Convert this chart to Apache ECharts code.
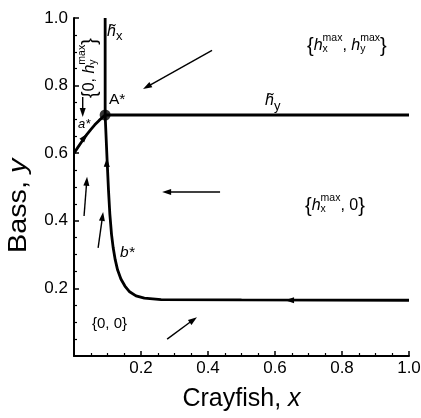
<!DOCTYPE html>
<html><head><meta charset="utf-8">
<script src="https://cdn.jsdelivr.net/npm/echarts@6/dist/echarts.min.js"></script>
<style>html,body{margin:0;padding:0;background:#fff}#c{width:421px;height:418px}</style>
</head><body><div id="c"></div>
<script>
// ---- data ----
const hxTilde = [[0.093, 1.0], [0.093, 0.713]];
const hyTilde = [[0.093, 0.713], [1.0, 0.713]];
const aStar = [[0, 0.600], [0.012, 0.618], [0.025, 0.637], [0.038, 0.655], [0.05, 0.670], [0.062, 0.684], [0.075, 0.697], [0.093, 0.713]];
const bStar = [[0.093, 0.713], [0.0985, 0.586], [0.103, 0.49], [0.107, 0.42], [0.112, 0.36], [0.117, 0.32], [0.123, 0.285], [0.130, 0.255], [0.140, 0.228], [0.152, 0.207], [0.166, 0.19], [0.185, 0.178], [0.21, 0.171], [0.26, 0.167], [0.5, 0.166], [1.0, 0.165]];
const equilibriumA = [[0.093, 0.713]];
// free flow arrows [x1, y1, x2(head), y2(head)]
const flowArrows = [
  [0.412, 0.904, 0.206, 0.790],
  [0.436, 0.485, 0.263, 0.485],
  [0.030, 0.414, 0.039, 0.530],
  [0.072, 0.320, 0.087, 0.426],
  [0.026, 0.766, 0.026, 0.707],
  [0.278, 0.050, 0.367, 0.115]
];
// arrowheads sitting on the curves [x1, y1, x2(tip), y2(tip)]
const curveArrows = [
  [0.032, 0.648, 0.040, 0.658],
  [0.0975, 0.55, 0.0985, 0.586],
  [0.67, 0.165, 0.630, 0.165]
];
const xTitle = ['Crayfish, ', 'x'];
const yTitle = ['Bass, ', 'y'];

const FONT = '"Liberation Sans", Arial, sans-serif';
const mctx = document.createElement('canvas').getContext('2d');
function fnt(size, it) { return (it ? 'italic ' : '') + size + 'px ' + FONT; }
function tw(t, size, it) { mctx.font = fnt(size, it); return mctx.measureText(t).width; }
function T(t, x, y, size, it) {
  return { type: 'text', x: x, y: y, silent: true,
    style: { text: t, font: fnt(size, it), fill: '#000', align: 'left', verticalAlign: 'middle', textAlign: 'left', textVerticalAlign: 'middle' } };
}
function math(pieces, base, x, y, rot, scaleX) {
  let cx = 0; const ch = [];
  pieces.forEach(p => {
    if (p.sup !== undefined || p.sub !== undefined) {
      const s = p.s || base * 0.66; let w = 0;
      if (p.sup) { ch.push(T(p.sup, cx, p.supDy !== undefined ? p.supDy : -base * 0.5, s, false)); w = Math.max(w, tw(p.sup, s, false)); }
      if (p.sub) { ch.push(T(p.sub, cx, p.subDy !== undefined ? p.subDy : base * 0.2, s, p.subIt)); w = Math.max(w, tw(p.sub, s, p.subIt)); }
      cx += w;
    } else {
      const s = p.s || base; ch.push(T(p.t, cx, p.dy || 0, s, p.it)); cx += tw(p.t, s, p.it);
    }
  });
  return { type: 'group', x: x, y: y, rotation: rot || 0, scaleX: scaleX || 1, children: ch, width: cx };
}

const chart = echarts.init(document.getElementById('c'), null, { renderer: 'canvas' });

function arrowItem(showLine) {
  return function (params, api) {
    const p1 = api.coord([api.value(0), api.value(1)]);
    const p2 = api.coord([api.value(2), api.value(3)]);
    const dx = p2[0] - p1[0], dy = p2[1] - p1[1];
    const L = Math.hypot(dx, dy) || 1; const ux = dx / L, uy = dy / L;
    const hl = 9, hw = 3;
    const bx = p2[0] - ux * hl, by = p2[1] - uy * hl;
    const children = [];
    if (showLine) children.push({ type: 'line', shape: { x1: p1[0], y1: p1[1], x2: bx + ux * 2, y2: by + uy * 2 }, style: { stroke: '#000', lineWidth: 1.4 } });
    children.push({ type: 'polygon', shape: { points: [p2, [bx - uy * hw, by + ux * hw], [bx + uy * hw, by - ux * hw]] }, style: { fill: '#000' } });
    return { type: 'group', children: children };
  };
}

const lineStyle = { color: '#000', width: 2.8 };
function curve(name, data) {
  return { name: name, type: 'line', data: data, showSymbol: false, symbol: 'none', smooth: false, lineStyle: lineStyle, z: 3, animation: false };
}
const axisCommon = {
  type: 'value', min: 0, max: 1, interval: 0.2,
  axisLine: { show: true, onZero: false, lineStyle: { color: '#000', width: 2 } },
  axisTick: { show: true, inside: true, length: 5, lineStyle: { color: '#000', width: 1.5 } },
  minorTick: { show: true, splitNumber: 4, length: 3, lineStyle: { color: '#000', width: 1.2 } },
  splitLine: { show: false }, minorSplitLine: { show: false },
  axisLabel: { formatter: v => v === 0 ? '' : v.toFixed(1), color: '#000', fontSize: 17, fontFamily: FONT }
};

const nameRich = { n: { fontSize: 25, fontFamily: FONT, color: '#000' }, i: { fontSize: 25, fontFamily: FONT, fontStyle: 'italic', color: '#000' } };

// y title as rotated text, slightly stretched along its length like the reference
const yT = math([{ t: yTitle[0] }, { t: yTitle[1], it: true }], 25, 19, 253, Math.PI / 2, 1.15);

chart.setOption({
  backgroundColor: '#fff',
  animation: false,
  grid: { left: 74, right: 12, top: 18, bottom: 62, containLabel: false, outerBoundsMode: 'none' },
  xAxis: Object.assign({}, axisCommon, {
    axisLabel: Object.assign({}, axisCommon.axisLabel, { margin: 4 }),
    name: '{n|' + xTitle[0] + '}{i|' + xTitle[1] + '}', nameLocation: 'middle', nameGap: 31,
    nameTextStyle: { rich: nameRich }
  }),
  yAxis: Object.assign({}, axisCommon, {
    axisLabel: Object.assign({}, axisCommon.axisLabel, { margin: 6 })
  }),
  series: [
    curve('h̃x', hxTilde),
    curve('h̃y', hyTilde),
    curve('a*', aStar),
    curve('b*', bStar),
    { type: 'scatter', data: equilibriumA, symbolSize: 11, itemStyle: { color: '#000' }, z: 5 },
    { type: 'custom', data: flowArrows, renderItem: arrowItem(true), encode: { x: [0, 2], y: [1, 3] }, z: 4 },
    { type: 'custom', data: curveArrows, renderItem: arrowItem(false), encode: { x: [0, 2], y: [1, 3] }, z: 4 }
  ],
  graphic: [
    yT,
    math([{ t: 'h\u0303', it: true }, { sub: 'x', s: 13, subDy: 4 }], 16, 107, 32),
    math([{ t: 'h\u0303', it: true }, { sub: 'y', s: 13, subDy: 5 }], 16, 265, 101),
    math([{ t: 'A*' }], 15.5, 109, 100),
    math([{ t: 'a*', it: true }], 13, 78, 124),
    math([{ t: 'b*', it: true }], 15.5, 120, 253),
    math([{ t: '{0, 0}' }], 15, 92, 324),
    math([{ t: '{', s: 20 }, { t: 'h', it: true }, { sup: 'max', sub: 'x', s: 10.5, supDy: -8, subDy: 3 }, { t: ', ' }, { t: 'h', it: true }, { sup: 'max', sub: 'y', s: 10.5, supDy: -8, subDy: 3 }, { t: '}', s: 20 }], 16, 307, 46),
    math([{ t: '{', s: 20 }, { t: 'h', it: true }, { sup: 'max', sub: 'x', s: 10.5, supDy: -8, subDy: 3 }, { t: ', 0' }, { t: '}', s: 20 }], 16, 305, 206),
    math([{ t: '{', s: 20 }, { t: '0, ' }, { t: 'h', it: true }, { sup: 'max', sub: 'y', s: 10.5, supDy: -8, subDy: 3 }, { t: '}', s: 20 }], 16, 90, 98, Math.PI / 2)
  ]
});
</script></body></html>
